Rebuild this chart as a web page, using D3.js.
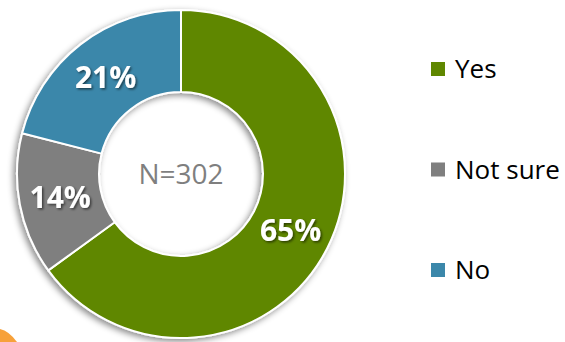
<!DOCTYPE html>
<html>
<head>
<meta charset="utf-8">
<script src="https://cdn.jsdelivr.net/npm/d3@7"></script>
<style>
  html, body { margin: 0; padding: 0; background: #fff; }
  svg { display: block; font-family: "Open Sans", "DejaVu Sans", sans-serif; }
</style>
</head>
<body>
<svg id="chart" width="565" height="342"></svg>
<script>
// Survey answers, share of respondents (%)
const categories = ["Yes", "Not sure", "No"];
const values = [65, 14, 21];
const colors = ["#5f8700", "#7f7f7f", "#3b87aa"];
const sampleLabel = "N=302";

const svg = d3.select("#chart");
const cx = 181, cy = 174;
const outerR = 164, innerR = 82;

const defs = svg.append("defs");
const ringShadow = defs.append("filter").attr("id", "ringShadow")
  .attr("x", "-20%").attr("y", "-20%").attr("width", "140%").attr("height", "140%");
ringShadow.append("feDropShadow")
  .attr("dx", -2.5).attr("dy", 2.5).attr("stdDeviation", 3)
  .attr("flood-color", "#000").attr("flood-opacity", 0.45);

const textShadow = defs.append("filter").attr("id", "textShadow")
  .attr("x", "-20%").attr("y", "-20%").attr("width", "140%").attr("height", "140%");
textShadow.append("feDropShadow")
  .attr("dx", 1.5).attr("dy", 1.5).attr("stdDeviation", 1.2)
  .attr("flood-color", "#000").attr("flood-opacity", 0.55);

// Orange accent peeking in at the lower-left corner
svg.append("path")
  .attr("d", "M0,329 Q9,331 17,342 L0,342 Z")
  .attr("fill", "#f7a13a");

const pie = d3.pie().value(d => d).sort(null);
const arcs = pie(values);
const arc = d3.arc().innerRadius(innerR).outerRadius(outerR);

const g = svg.append("g").attr("transform", `translate(${cx},${cy})`);

g.append("g").attr("filter", "url(#ringShadow)")
  .selectAll("path")
  .data(arcs)
  .join("path")
  .attr("d", arc)
  .attr("fill", (d, i) => colors[i])
  .attr("stroke", "#fff")
  .attr("stroke-width", 2)
  .attr("stroke-linejoin", "round");

// Percentage labels on the ring
const labelArc = d3.arc().innerRadius((innerR + outerR) / 2).outerRadius((innerR + outerR) / 2);
g.selectAll("text.pct")
  .data(arcs)
  .join("text")
  .attr("class", "pct")
  .attr("transform", d => {
    const [x, y] = labelArc.centroid(d);
    return `translate(${x},${y})`;
  })
  .attr("text-anchor", "middle")
  .attr("dy", "0.36em")
  .attr("fill", "#fff")
  .attr("font-weight", 700)
  .attr("font-size", 30)
  .attr("filter", "url(#textShadow)")
  .text(d => d.data + "%");

g.append("text")
  .attr("text-anchor", "middle")
  .attr("dy", "0.36em")
  .attr("fill", "#7f7f7f")
  .attr("font-size", 28)
  .text(sampleLabel);

// Legend
const legendY = d3.scalePoint().domain(categories).range([69, 270]);
const legend = svg.append("g");
const item = legend.selectAll("g")
  .data(categories)
  .join("g")
  .attr("transform", d => `translate(431,${legendY(d)})`);
item.append("rect")
  .attr("x", 0).attr("y", -7)
  .attr("width", 14).attr("height", 14)
  .attr("fill", (d, i) => colors[i]);
item.append("text")
  .attr("x", 24)
  .attr("dy", "0.36em")
  .attr("font-size", 26)
  .attr("fill", "#000")
  .text(d => d);
</script>
</body>
</html>
